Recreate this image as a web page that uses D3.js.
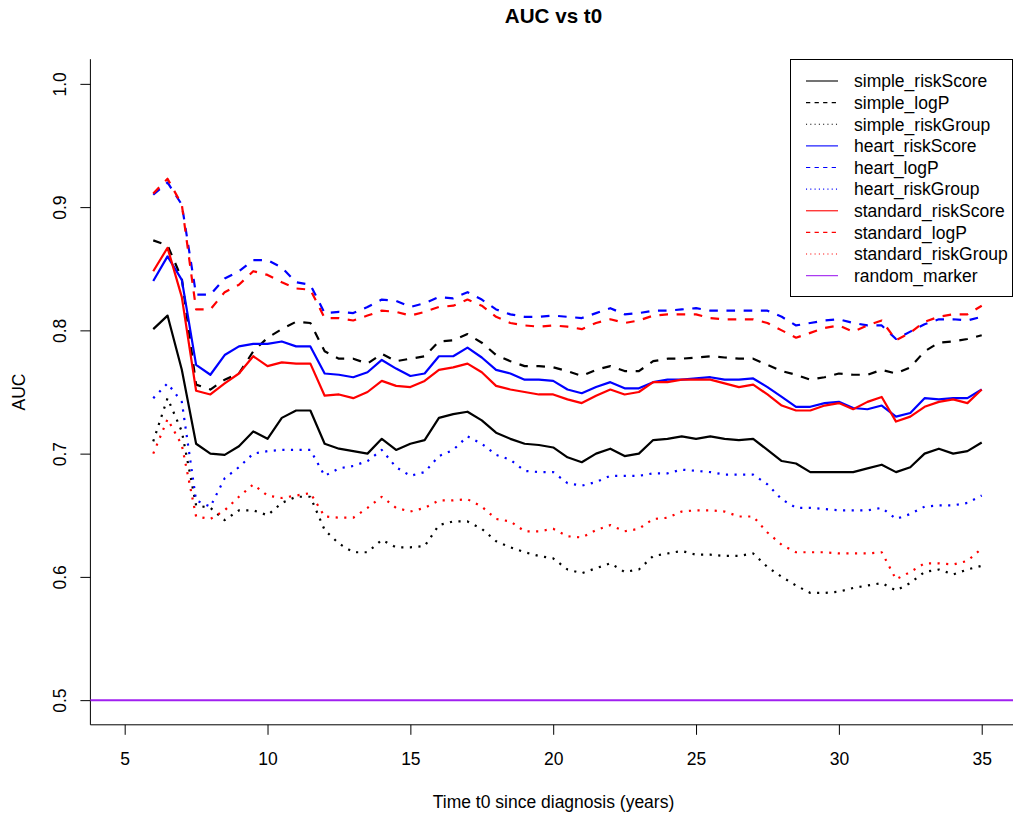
<!DOCTYPE html>
<html>
<head>
<meta charset="utf-8">
<script src="https://d3js.org/d3.v7.min.js"></script>
<style>
  body { margin: 0; background: #fff; }
  text { font-family: "Liberation Sans", Arial, Helvetica, sans-serif; }
</style>
</head>
<body>
<div id="my_dataviz"></div>
<script>
// time points, 6 to 35 years every half year
var times = [6, 6.5, 7, 7.5, 8, 8.5, 9, 9.5, 10, 10.5, 11, 11.5, 12, 12.5, 13, 13.5, 14, 14.5, 15, 15.5,
  16, 16.5, 17, 17.5, 18, 18.5, 19, 19.5, 20, 20.5, 21, 21.5, 22, 22.5, 23, 23.5, 24, 24.5, 25, 25.5,
  26, 26.5, 27, 27.5, 28, 28.5, 29, 29.5, 30, 30.5, 31, 31.5, 32, 32.5, 33, 33.5, 34, 34.5, 35];

var simple_riskScore = [0.801, 0.812, 0.768, 0.708, 0.700, 0.699, 0.706, 0.718, 0.712, 0.729, 0.735, 0.735, 0.708, 0.704, 0.702, 0.700, 0.712, 0.703, 0.708, 0.711,
  0.729, 0.732, 0.734, 0.727, 0.717, 0.712, 0.708, 0.707, 0.705, 0.697, 0.693, 0.700, 0.704, 0.698, 0.700, 0.711, 0.712, 0.714, 0.712, 0.714,
  0.712, 0.711, 0.712, 0.703, 0.694, 0.692, 0.685, 0.685, 0.685, 0.685, 0.688, 0.691, 0.685, 0.689, 0.700, 0.704, 0.700, 0.702, 0.709];
var simple_logP = [0.873, 0.869, 0.842, 0.756, 0.752, 0.760, 0.765, 0.783, 0.794, 0.801, 0.807, 0.806, 0.783, 0.777, 0.777, 0.773, 0.781, 0.775, 0.777, 0.779,
  0.791, 0.792, 0.797, 0.790, 0.780, 0.775, 0.771, 0.771, 0.770, 0.767, 0.763, 0.768, 0.771, 0.767, 0.767, 0.775, 0.777, 0.777, 0.778, 0.779,
  0.778, 0.777, 0.777, 0.772, 0.767, 0.764, 0.760, 0.762, 0.765, 0.764, 0.764, 0.768, 0.765, 0.770, 0.783, 0.790, 0.791, 0.793, 0.796];
var simple_riskGroup = [0.710, 0.745, 0.718, 0.658, 0.656, 0.646, 0.654, 0.654, 0.650, 0.660, 0.665, 0.665, 0.638, 0.627, 0.620, 0.620, 0.630, 0.624, 0.624, 0.625,
  0.642, 0.645, 0.645, 0.639, 0.629, 0.624, 0.620, 0.617, 0.615, 0.606, 0.603, 0.607, 0.611, 0.604, 0.606, 0.617, 0.619, 0.621, 0.618, 0.618,
  0.617, 0.617, 0.619, 0.608, 0.600, 0.593, 0.587, 0.587, 0.588, 0.591, 0.593, 0.595, 0.589, 0.595, 0.604, 0.606, 0.602, 0.606, 0.609];
var heart_riskScore = [0.840, 0.860, 0.841, 0.772, 0.764, 0.780, 0.787, 0.789, 0.789, 0.791, 0.787, 0.787, 0.765, 0.764, 0.762, 0.766, 0.776, 0.769, 0.763, 0.765,
  0.779, 0.779, 0.786, 0.778, 0.768, 0.765, 0.760, 0.760, 0.759, 0.752, 0.749, 0.754, 0.758, 0.753, 0.753, 0.758, 0.760, 0.760, 0.761, 0.762,
  0.760, 0.760, 0.761, 0.754, 0.746, 0.738, 0.738, 0.741, 0.742, 0.737, 0.736, 0.739, 0.730, 0.733, 0.745, 0.744, 0.745, 0.745, 0.752];
var heart_logP = [0.910, 0.920, 0.902, 0.829, 0.829, 0.842, 0.848, 0.857, 0.857, 0.851, 0.839, 0.837, 0.814, 0.815, 0.814, 0.819, 0.825, 0.824, 0.819, 0.822,
  0.827, 0.826, 0.831, 0.825, 0.817, 0.813, 0.811, 0.811, 0.812, 0.811, 0.810, 0.814, 0.818, 0.813, 0.814, 0.816, 0.816, 0.817, 0.818, 0.816,
  0.816, 0.816, 0.816, 0.816, 0.811, 0.804, 0.806, 0.808, 0.809, 0.806, 0.804, 0.804, 0.793, 0.799, 0.805, 0.809, 0.809, 0.808, 0.811];
var heart_riskGroup = [0.745, 0.757, 0.742, 0.662, 0.657, 0.680, 0.689, 0.700, 0.702, 0.703, 0.703, 0.703, 0.682, 0.688, 0.690, 0.694, 0.703, 0.689, 0.682, 0.685,
  0.698, 0.703, 0.714, 0.708, 0.699, 0.695, 0.686, 0.685, 0.685, 0.676, 0.674, 0.677, 0.682, 0.682, 0.682, 0.684, 0.684, 0.687, 0.686, 0.685,
  0.683, 0.683, 0.683, 0.675, 0.663, 0.656, 0.656, 0.655, 0.654, 0.654, 0.654, 0.656, 0.647, 0.651, 0.657, 0.658, 0.658, 0.660, 0.666];
var standard_riskScore = [0.848, 0.867, 0.827, 0.751, 0.748, 0.757, 0.765, 0.779, 0.771, 0.774, 0.773, 0.773, 0.747, 0.748, 0.745, 0.750, 0.759, 0.755, 0.754, 0.759,
  0.768, 0.770, 0.773, 0.766, 0.755, 0.752, 0.750, 0.748, 0.748, 0.744, 0.741, 0.747, 0.752, 0.748, 0.750, 0.758, 0.758, 0.760, 0.760, 0.760,
  0.757, 0.754, 0.756, 0.748, 0.739, 0.735, 0.735, 0.739, 0.741, 0.736, 0.742, 0.746, 0.726, 0.730, 0.738, 0.742, 0.744, 0.741, 0.752];
var standard_logP = [0.911, 0.923, 0.902, 0.817, 0.817, 0.831, 0.837, 0.848, 0.845, 0.839, 0.834, 0.833, 0.810, 0.810, 0.808, 0.812, 0.816, 0.815, 0.812, 0.815,
  0.819, 0.820, 0.825, 0.820, 0.811, 0.806, 0.804, 0.803, 0.804, 0.803, 0.801, 0.806, 0.809, 0.806, 0.808, 0.812, 0.813, 0.813, 0.813, 0.810,
  0.809, 0.809, 0.809, 0.806, 0.800, 0.794, 0.798, 0.802, 0.804, 0.799, 0.804, 0.808, 0.792, 0.798, 0.807, 0.811, 0.813, 0.813, 0.820];
var standard_riskGroup = [0.700, 0.728, 0.707, 0.649, 0.647, 0.654, 0.665, 0.675, 0.666, 0.664, 0.666, 0.668, 0.649, 0.648, 0.648, 0.656, 0.665, 0.656, 0.653, 0.656,
  0.662, 0.662, 0.663, 0.657, 0.647, 0.645, 0.637, 0.637, 0.639, 0.633, 0.632, 0.638, 0.642, 0.637, 0.639, 0.647, 0.648, 0.653, 0.654, 0.654,
  0.653, 0.649, 0.649, 0.636, 0.626, 0.620, 0.620, 0.620, 0.619, 0.619, 0.619, 0.620, 0.598, 0.604, 0.611, 0.611, 0.610, 0.613, 0.623];
var random_marker = 0.5;

var seriesNames = ["simple_riskScore", "simple_logP", "simple_riskGroup",
  "heart_riskScore", "heart_logP", "heart_riskGroup",
  "standard_riskScore", "standard_logP", "standard_riskGroup", "random_marker"];
var seriesValues = [simple_riskScore, simple_logP, simple_riskGroup,
  heart_riskScore, heart_logP, heart_riskGroup,
  standard_riskScore, standard_logP, standard_riskGroup, null];
var seriesColors = ["black", "black", "black", "blue", "blue", "blue", "red", "red", "red", "#A020F0"];
var seriesLty = ["solid", "dashed", "dotted", "solid", "dashed", "dotted", "solid", "dashed", "dotted", "solid"];

var xTicks = [5, 10, 15, 20, 25, 30, 35];
var yTicks = [0.5, 0.6, 0.7, 0.8, 0.9, 1.0];

var W = 1013, H = 814;
var lw = 2.2;
var fs = "17.5px";

// R style dash patterns, scaled by line width
function dash(lty, s) {
  if (lty == "dashed") return (4 * s) + "," + (4 * s);
  if (lty == "dotted") return (1 * s) + "," + (3 * s);
  return null;
}

var svg = d3.select("#my_dataviz")
  .append("svg")
    .attr("width", W)
    .attr("height", H);

var x = d3.scaleLinear()
  .domain([3.8, 36.2])
  .range([90.4, 1016]);

var y = d3.scaleLinear()
  .domain([0.48, 1.02])
  .range([724.8, 59.2]);

// title
svg.append("text")
  .attr("x", 553.5)
  .attr("y", 22.7)
  .attr("text-anchor", "middle")
  .style("font-size", "20.6px")
  .style("font-weight", "bold")
  .text("AUC vs t0");

// x axis
var xAxis = svg.append("g")
  .attr("transform", "translate(0," + 724.8 + ")")
  .call(d3.axisBottom(x).tickValues(xTicks).tickSize(10).tickPadding(18).tickSizeOuter(0));
xAxis.select(".domain").remove();
xAxis.selectAll("text").style("font-size", fs).attr("fill", "black");

// y axis
var yAxis = svg.append("g")
  .attr("transform", "translate(" + 90.4 + ",0)")
  .call(d3.axisLeft(y).tickValues(yTicks).tickSize(10).tickFormat(d3.format(".1f")));
yAxis.select(".domain").remove();
yAxis.selectAll("text")
  .style("font-size", fs)
  .attr("fill", "black")
  .attr("text-anchor", "middle")
  .attr("dy", null)
  .attr("x", null)
  .attr("transform", "translate(-24,0) rotate(-90)")
  .attr("y", 0);

// plot frame: left and bottom lines
svg.append("path")
  .attr("d", "M" + x(3.8) + "," + y(1.02) + "V" + y(0.48) + "H" + W)
  .attr("fill", "none")
  .attr("stroke", "black")
  .attr("stroke-width", 1);

// axis titles
svg.append("text")
  .attr("x", 553.5)
  .attr("y", 808)
  .attr("text-anchor", "middle")
  .style("font-size", fs)
  .text("Time t0 since diagnosis (years)");

svg.append("text")
  .attr("transform", "translate(25," + y(0.75) + ") rotate(-90)")
  .attr("text-anchor", "middle")
  .style("font-size", fs)
  .text("AUC");

var plot = svg.append("g");

// random marker reference line
plot.append("line")
  .attr("x1", x(3.8))
  .attr("x2", W)
  .attr("y1", y(random_marker))
  .attr("y2", y(random_marker))
  .attr("stroke", seriesColors[9])
  .attr("stroke-width", 2);

var line = d3.line()
  .x(function(d, i) { return x(times[i]); })
  .y(function(d) { return y(d); });

for (var i = 0; i < 9; i++) {
  plot.append("path")
    .datum(seriesValues[i])
    .attr("d", line)
    .attr("fill", "none")
    .attr("stroke", seriesColors[i])
    .attr("stroke-width", lw)
    .attr("stroke-dasharray", dash(seriesLty[i], 2.15))
    .attr("stroke-linejoin", "round");
}

// legend
var legend = svg.append("g");
legend.append("rect")
  .attr("x", 790.5)
  .attr("y", 59.5)
  .attr("width", 222)
  .attr("height", 237)
  .attr("fill", "white")
  .attr("stroke", "black")
  .attr("stroke-width", 1);

var items = legend.selectAll(".item")
  .data(seriesNames)
  .enter().append("g")
  .attr("class", "item")
  .attr("transform", function(d, i) { return "translate(0," + (81 + i * 21.63) + ")"; });

items.append("line")
  .attr("x1", 806)
  .attr("x2", 838)
  .attr("stroke", function(d, i) { return seriesColors[i]; })
  .attr("stroke-width", 1.1)
  .attr("stroke-dasharray", function(d, i) { return dash(seriesLty[i], 1.07); });

items.append("text")
  .attr("x", 854)
  .attr("y", 6.3)
  .style("font-size", fs)
  .text(function(d) { return d; });
</script>
</body>
</html>
